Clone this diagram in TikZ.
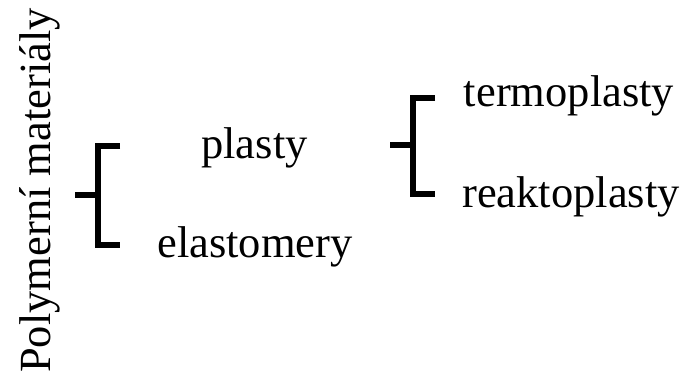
\documentclass[tikz,border=0pt]{standalone}
\usepackage{fontspec}
\setmainfont{Liberation Serif}
\usetikzlibrary{positioning}

\begin{document}
\begin{tikzpicture}[x=1pt,y=1pt,
  lbl/.style={anchor=base,inner sep=0pt,font=\fontsize{44.5}{50}\selectfont},
  brace/.style={line width=5.6pt,line join=miter}]
  \useasboundingbox (0,0) rectangle (684,378);
  \node[lbl,rotate=90,anchor=base west] (root) at (50,5) {Polymerní materiály};
  \node[lbl] (plasty) at (254.5,220) {plasty};
  \node[lbl] (elast) at (255,121) {elastomery};
  \node[lbl] (termo) at (569,271) {termoplasty};
  \node[lbl] (reakto) at (571,171) {reaktoplasty};
  % first bracket
  \coordinate (s1) at (75,183); \coordinate (m1) at (98,183);
  \draw[brace] (120,232) -- (98,232) -- (98,133) -- (120,133);
  \draw[brace] (s1) -- (m1);
  % second bracket
  \coordinate (s2) at (390,233); \coordinate (m2) at (413,233);
  \draw[brace] (435,280) -- (413,280) -- (413,184) -- (435,184);
  \draw[brace] (s2) -- (m2);
\end{tikzpicture}
\end{document}
